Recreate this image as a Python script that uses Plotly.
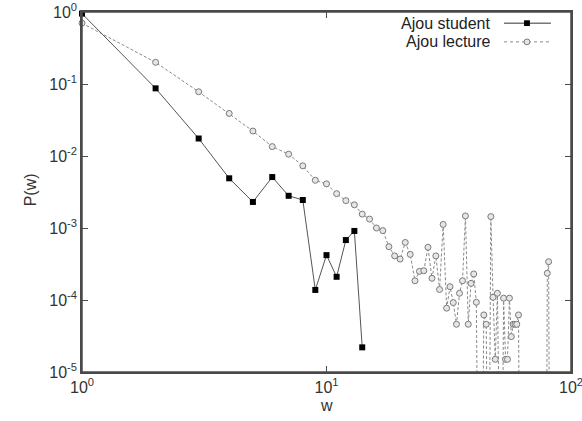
import plotly.graph_objects as go

# ---- data ----
student_w = [1, 2, 3, 4, 5, 6, 7, 8, 9, 10, 11, 12, 13, 14]
student_p = [0.95, 0.087, 0.0175, 0.0049, 0.0023, 0.0051, 0.0028, 0.00245,
             1.38e-4, 4.2e-4, 2.1e-4, 6.8e-4, 9.1e-4, 2.2e-5]

lecture_w = list(range(1, 63)) + [79, 80, 81, 82]
lecture_p = [0.70, 0.20, 0.078, 0.039, 0.0222, 0.0135, 0.0106, 0.0073, 0.0046, 0.0041,
             0.0030, 0.0024, 0.0021, 0.00156, 0.00133, 0.0010, 9.2e-4, 5.5e-4, 4.1e-4, 3.7e-4,
             6.3e-4, 4.3e-4, 1.85e-4, 2.5e-4, 2.55e-4, 5.4e-4, 2.0e-4, 4.1e-4, 1.4e-4, 1.12e-3,
             7.7e-5, 1.53e-4, 9.2e-5, 4.6e-5, 1.24e-4, 1.85e-4, 1.47e-3, 4.6e-5, 1.7e-4, 2.3e-4,
             9.3e-5, 1e-8, 1e-8, 6.2e-5, 4.6e-5, 1e-8, 1.44e-3, 1.09e-4, 1.5e-5, 1.24e-4,
             1e-8, 1e-8, 1.06e-4, 1.5e-5, 1.5e-5, 1.06e-4, 3.1e-5, 4.6e-5, 4.6e-5, 4.6e-5,
             6.2e-5, 1e-8,
             1e-8, 2.35e-4, 3.4e-4, 1e-8]

x_tickvals = [1, 10, 100]
x_ticktext = ["10<sup>0</sup>", "10<sup>1</sup>", "10<sup>2</sup>"]
y_tickvals = [1e-5, 1e-4, 1e-3, 1e-2, 1e-1, 1]
y_ticktext = ["10<sup>-5</sup>", "10<sup>-4</sup>", "10<sup>-3</sup>",
              "10<sup>-2</sup>", "10<sup>-1</sup>", "10<sup>0</sup>"]

series_names = ["Ajou student", "Ajou lecture"]

FONT = "Liberation Sans, Arial, sans-serif"
FS = 16
FRAME = "#4a4a4a"
fig = go.Figure()

# lecture: dashed line (clipped), markers only for visible points
fig.add_trace(go.Scatter(
    x=lecture_w, y=lecture_p, mode="lines",
    line=dict(color="#8a8a8a", width=1, dash="3px,2px"),
    showlegend=False, hoverinfo="skip"))
vis = [(w, p) for w, p in zip(lecture_w, lecture_p) if p >= 1e-5]
fig.add_trace(go.Scatter(
    x=[v[0] for v in vis], y=[v[1] for v in vis], mode="markers",
    marker=dict(symbol="circle", size=6, color="#e6e6e6",
                line=dict(color="#7a7a7a", width=1)),
    cliponaxis=False, showlegend=False))

# student: solid line with black squares
fig.add_trace(go.Scatter(
    x=student_w, y=student_p, mode="lines+markers",
    line=dict(color="#555555", width=1),
    marker=dict(symbol="square", size=6, color="black"),
    cliponaxis=False, showlegend=False))

axis_common = dict(
    type="log", showgrid=False, zeroline=False, automargin=False,
    showline=True, linecolor=FRAME, linewidth=1.5, mirror="allticks",
    ticks="inside", ticklen=6, tickcolor=FRAME, tickwidth=1,
    tickfont=dict(family=FONT, size=FS, color="#333333"),
    ticklabeloverflow="allow",
)
fig.update_xaxes(range=[0, 2], tickvals=x_tickvals, ticktext=x_ticktext, **axis_common)
fig.update_yaxes(range=[-5, 0], tickvals=y_tickvals, ticktext=y_ticktext, **axis_common)

# explicit frame around the plot area
fig.add_shape(type="rect", xref="paper", yref="paper", x0=0, x1=1, y0=0, y1=1,
              line=dict(color=FRAME, width=1.5), layer="above")

# axis titles
fig.add_annotation(text="w", xref="paper", yref="paper", x=0.5, y=-0.092,
                   showarrow=False, font=dict(family=FONT, size=FS, color="#333333"),
                   xanchor="center", yanchor="middle")
fig.add_annotation(text="P(w)", xref="paper", yref="paper", x=-0.106, y=0.505,
                   showarrow=False, textangle=-90,
                   font=dict(family=FONT, size=FS, color="#333333"),
                   xanchor="center", yanchor="middle")

# gnuplot-style legend (text right-aligned, sample to the right)
leg_y = [0.969, 0.917]
styles = [dict(color="#333333", width=1), dict(color="#8a8a8a", width=1, dash="dot")]
for name, yy, st, i in zip(series_names, leg_y, styles, range(2)):
    fig.add_annotation(text=name, xref="paper", yref="paper", x=0.8405, y=yy,
                       showarrow=False, xanchor="right", yanchor="middle",
                       font=dict(family=FONT, size=FS, color="#222222"))
    fig.add_shape(type="line", xref="paper", yref="paper", x0=0.863, x1=0.959,
                  y0=yy, y1=yy, line=st)
    if i == 0:
        fig.add_shape(type="rect", xref="paper", yref="paper",
                      x0=0.910 - 0.006, x1=0.910 + 0.006, y0=yy - 0.008, y1=yy + 0.008,
                      fillcolor="black", line=dict(color="black", width=0))
    else:
        fig.add_shape(type="circle", xref="paper", yref="paper",
                      x0=0.910 - 0.006, x1=0.910 + 0.006, y0=yy - 0.008, y1=yy + 0.008,
                      fillcolor="#e6e6e6", line=dict(color="#7a7a7a", width=1))

fig.update_layout(
    width=582, height=421,
    margin=dict(l=82, r=11, t=12, b=49),
    plot_bgcolor="white", paper_bgcolor="white",
    showlegend=False,
)

fig.write_html("out.html")
